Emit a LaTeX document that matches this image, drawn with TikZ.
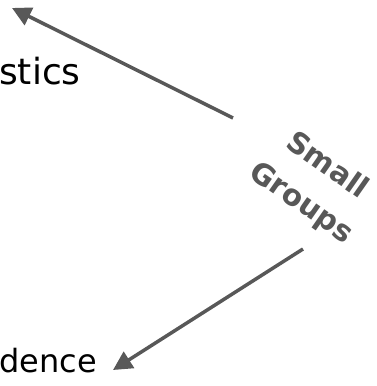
\documentclass[tikz,border=0pt]{standalone}
\usepackage{fontspec}
\setmainfont{DejaVu Sans}
\usetikzlibrary{arrows.meta}
\definecolor{arrgray}{HTML}{585858}
\tikzset{
  conn/.style={draw=arrgray, line width=3.5pt, -{Triangle[length=19pt,width=19pt]}},
  lbl/.style={inner sep=0pt, text=black},
  grp/.style={inner sep=0pt, align=center, text=arrgray, rotate=-35,
    font=\fontsize{29.5}{45}\selectfont\bfseries}
}
\begin{document}
\begin{tikzpicture}[x=1pt,y=1pt]
\useasboundingbox (0,0) rectangle (376,386);
\node[lbl, anchor=base west, font=\fontsize{36}{40}\selectfont] (stics) at (-1,301) {stics};
\node[lbl, anchor=base west, font=\fontsize{32}{38}\selectfont] (dence) at (-1,13) {dence};
\node[grp] (sg) at (314,201) {Small\\Groups};
\coordinate (a1) at (233,268);
\coordinate (t1) at (12,378);
\coordinate (a2) at (303,137);
\coordinate (t2) at (113,16);
\draw[conn] (a1) -- (t1);
\draw[conn] (a2) -- (t2);
\end{tikzpicture}
\end{document}
